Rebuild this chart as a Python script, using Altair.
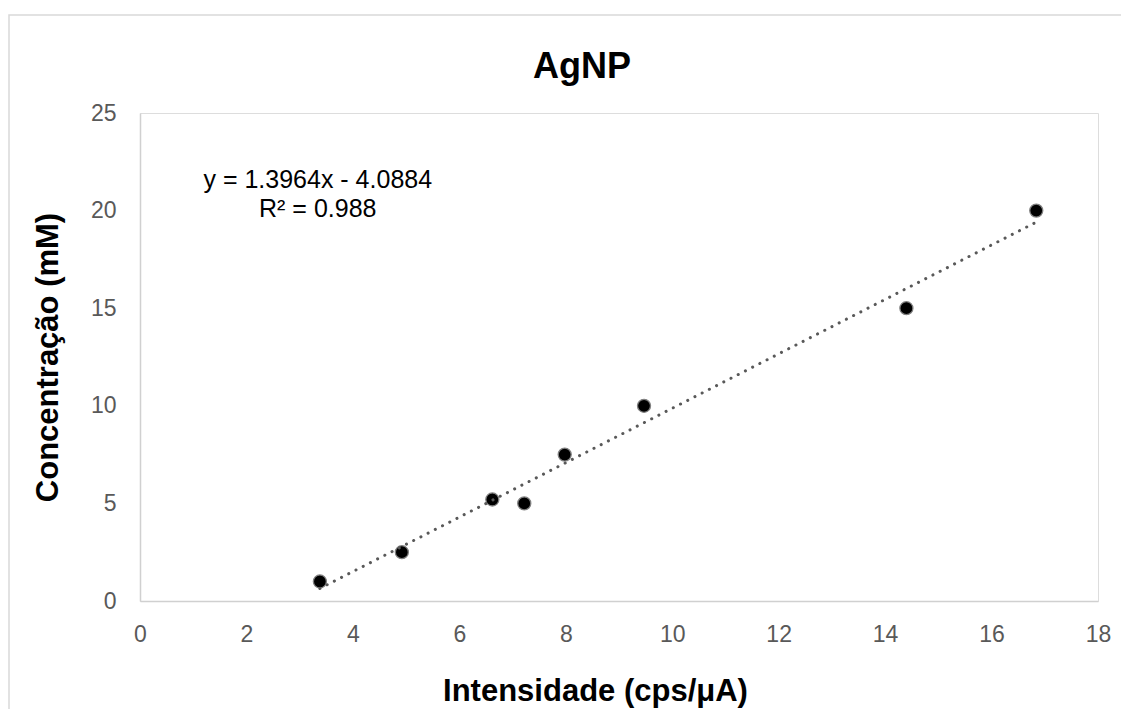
import altair as alt
import pandas as pd

# Data
intensidade = [3.38, 4.92, 6.62, 7.22, 7.98, 9.47, 14.40, 16.84]
concentracao = [1.0, 2.5, 5.2, 5.0, 7.5, 10.0, 15.0, 20.0]

x_ticks = [0, 2, 4, 6, 8, 10, 12, 14, 16, 18]
y_ticks = [0, 5, 10, 15, 20, 25]

eq_lines = ["y = 1.3964x - 4.0884", "R² = 0.988"]
eq_x = [3.34, 3.34]
eq_y = [21.15, 19.67]

FONT = "Liberation Sans"

df = pd.DataFrame({"x": intensidade, "y": concentracao})
eq_df = pd.DataFrame({"label": eq_lines, "x": eq_x, "y": eq_y})

xscale = alt.Scale(domain=[0, 18], nice=False, zero=False)
yscale = alt.Scale(domain=[0, 25], nice=False, zero=False)

x_axis = alt.Axis(
    values=x_ticks, grid=False, ticks=False, tickSize=0, labelFlush=False,
    domainColor="#d0d0d0", domainWidth=1.5,
    labelColor="#595959", labelFontSize=23, labelFont=FONT, labelPadding=22,
    title="Intensidade (cps/μA)", titleFont=FONT, titleFontSize=31,
    titleFontWeight="bold", titleColor="black",
    titleX=455, titleY=99, titleBaseline="alphabetic", titleAlign="center",
)
y_axis = alt.Axis(
    values=y_ticks, grid=False, ticks=False, tickSize=0, labelFlush=False,
    domainColor="#d0d0d0", domainWidth=1.5,
    labelColor="#595959", labelFontSize=23, labelFont=FONT, labelPadding=24,
    title="Concentração (mM)", titleFont=FONT, titleFontSize=31,
    titleFontWeight="bold", titleColor="black",
    titleX=-83, titleY=244, titleBaseline="alphabetic", titleAlign="center",
    titleAngle=270,
)

base = alt.Chart(df)

border = alt.Chart(alt.Data(values=[{}])).mark_rect(
    fill=None, stroke="#d9d9d9", strokeWidth=1.5
).encode(
    x=alt.value(-131), x2=alt.value(1200),
    y=alt.value(-98), y2=alt.value(800),
)

points = base.mark_point(
    shape="circle", filled=True, fill="black", stroke="#808080",
    strokeWidth=1.3, size=170, opacity=1,
).encode(
    x=alt.X("x:Q", scale=xscale, axis=x_axis),
    y=alt.Y("y:Q", scale=yscale, axis=y_axis),
)

trend = base.transform_regression("x", "y").mark_line(
    color="#595959", strokeWidth=3, strokeDash=[0.1, 8], strokeCap="round",
).encode(
    x=alt.X("x:Q", scale=xscale),
    y=alt.Y("y:Q", scale=yscale),
)

eq_text = alt.Chart(eq_df).mark_text(
    font=FONT, fontSize=25, color="black", align="center", baseline="alphabetic",
).encode(
    x=alt.X("x:Q", scale=xscale),
    y=alt.Y("y:Q", scale=yscale),
    text="label:N",
)

chart = alt.layer(border, points, trend, eq_text).properties(
    width=958,
    height=488,
    title=alt.TitleParams(
        "AgNP", font=FONT, fontSize=36, fontWeight="bold", color="black",
        anchor="middle", frame="group", dx=-37, offset=-100, baseline="alphabetic",
    ),
    autosize=alt.AutoSizeParams(type="none"),
    padding={"left": 132, "top": 105, "right": 23, "bottom": 108},
).configure_view(stroke=None).configure(background="white")

chart.save("out.html", embed_options={"renderer": "svg", "actions": False})
